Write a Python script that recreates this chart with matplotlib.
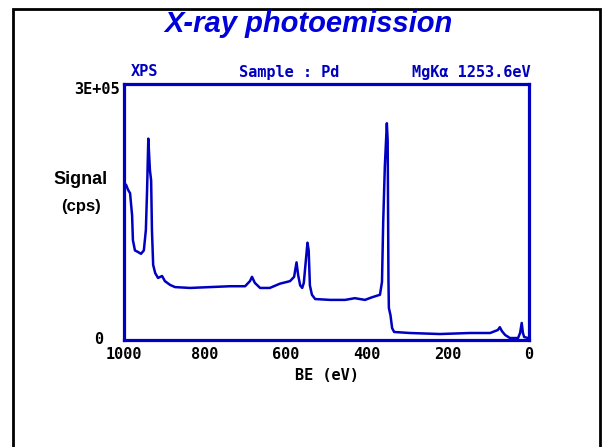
import matplotlib
matplotlib.use("Agg")
import matplotlib.pyplot as plt
from matplotlib.patches import Rectangle

# ---- data ----
be = [1000, 995, 990, 985, 980, 978, 973, 965, 958, 951, 946, 943, 940, 936, 933,
      931, 928, 923, 916, 906, 899, 886, 874, 837, 788, 738, 701, 689, 684, 677,
      664, 640, 615, 590, 580, 574, 570, 565, 560, 556, 552, 547, 544, 541, 536,
      528, 491, 454, 430, 405, 388, 368, 363, 360, 356, 351, 349, 347, 346, 342,
      338, 333, 294, 220, 146, 96, 77, 72, 67, 59, 47, 27, 22, 18, 15, 12, 2]
cps = [179e3, 182e3, 176e3, 172e3, 146e3, 117e3, 105e3, 103e3, 101e3, 105e3, 129e3,
       176e3, 236e3, 199e3, 187e3, 129e3, 88e3, 78.5e3, 72.7e3, 75e3, 69e3, 64.5e3,
       62e3, 61e3, 62e3, 63e3, 63e3, 69e3, 74e3, 67e3, 61e3, 61e3, 66e3, 69e3, 74e3,
       91e3, 76e3, 64e3, 61e3, 67e3, 88e3, 114e3, 105e3, 64e3, 53e3, 48e3, 47e3,
       47e3, 49e3, 47e3, 50e3, 53e3, 68e3, 138e3, 203e3, 254e3, 234e3, 70e3, 37.5e3,
       29e3, 14e3, 9.4e3, 8.2e3, 7e3, 8.2e3, 8.2e3, 11.7e3, 15e3, 10.5e3, 5.9e3,
       2.3e3, 2.3e3, 8.2e3, 20e3, 8.2e3, 3.5e3, 2.3e3]
x_ticks = [1000, 800, 600, 400, 200, 0]
x_ticklabels = ["1000", "800", "600", "400", "200", "0"]
y_ticks = [0, 300000]
y_ticklabels = ["0", "3E+05"]

BLUE = "#0000c0"
W, H = 602, 447

fig = plt.figure(figsize=(W / 100, H / 100), dpi=100)
fig.patch.set_facecolor("white")

# outer frame
fig.add_artist(Rectangle((12.5 / W, -0.05), (600 - 12.5) / W, 1.05 - 8.5 / H,
                         transform=fig.transFigure, fill=False,
                         edgecolor="black", linewidth=2.0))

ax = fig.add_axes([124 / W, (H - 340) / H, 405 / W, 256 / H])
ax.plot(be, cps, color=BLUE, linewidth=1.8)
ax.set_xlim(1000, 0)
ax.set_ylim(0, 300000)
for s in ax.spines.values():
    s.set_color(BLUE)
    s.set_linewidth(2.3)

mono = dict(family="DejaVu Sans Mono", weight="bold")
ax.set_xticks(x_ticks)
ax.set_xticklabels(x_ticklabels, fontsize=11, **mono)
ax.set_yticks([])
ax.tick_params(axis="x", length=0, pad=5)

# y labels (placed like the original, slightly offset)
ax.text(-4 / 405, 1 - 6 / 256, y_ticklabels[1], transform=ax.transAxes,
        ha="right", va="center", fontsize=11, **mono)
ax.text(-21 / 405, 1 / 256, y_ticklabels[0], transform=ax.transAxes,
        ha="right", va="center", fontsize=11, **mono)

ax.set_xlabel("BE (eV)", fontsize=11, labelpad=4, **mono)

fig.text(81 / W, 1 - 180 / H, "Signal", ha="center", va="center",
         fontsize=13, family="Liberation Sans", weight="bold")
fig.text(81 / W, 1 - 207 / H, "(cps)", ha="center", va="center",
         fontsize=12, family="Liberation Sans", weight="bold")

# header line
fig.text(131 / W, 1 - 72 / H, "XPS", ha="left", va="center", color=BLUE,
         fontsize=11, **mono)
fig.text(289 / W, 1 - 72 / H, "Sample : Pd", ha="center", va="center",
         color=BLUE, fontsize=11, **mono)
fig.text(531 / W, 1 - 72 / H, "MgKα 1253.6eV", ha="right", va="center",
         color=BLUE, fontsize=11, **mono)

fig.text(308 / W, 1 - 24 / H, "X-ray photoemission", ha="center", va="center",
         color="#0000dd", fontsize=21, family="Liberation Sans",
         weight="bold", style="italic")

fig.savefig("out.png", dpi=100)
